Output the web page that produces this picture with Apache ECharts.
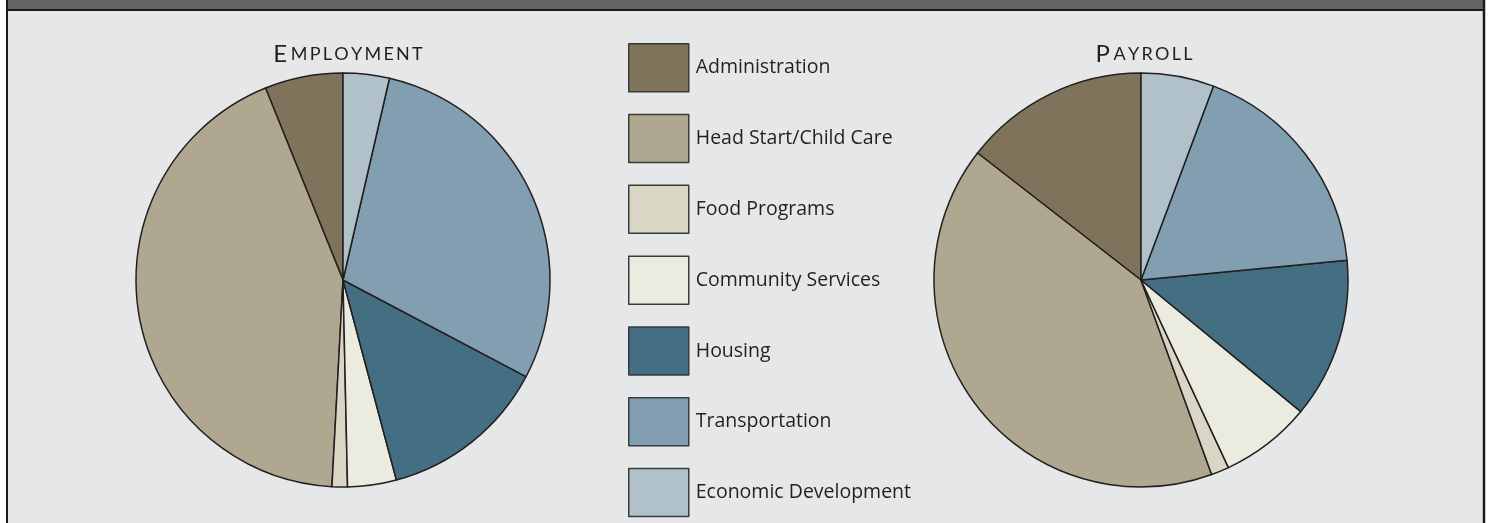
<!DOCTYPE html>
<html>
<head>
<meta charset="utf-8">
<script src="https://cdn.jsdelivr.net/npm/echarts@6/dist/echarts.min.js"></script>
<style>
  html, body { margin: 0; padding: 0; background: #ffffff; }
  #chart { width: 1491px; height: 523px; }
</style>
</head>
<body>
<div id="chart"></div>
<script>
var categories = ['Administration', 'Head Start/Child Care', 'Food Programs', 'Community Services', 'Housing', 'Transportation', 'Economic Development'];
var colors = ['#7f735b', '#afa78f', '#d9d6c6', '#ecebe0', '#446e82', '#819fb0', '#b1c1c9'];
var employment = [6.1, 43.0, 1.2, 3.8, 13.1, 29.1, 3.6];
var payroll = [14.5, 41.1, 1.4, 7.1, 12.5, 17.8, 5.7];

var chart = echarts.init(document.getElementById('chart'));

function toData(values) {
	var data = [];
	for (var i = 0; i < categories.length; i++) {
		data.push({ name: categories[i], value: values[i], itemStyle: { color: colors[i] } });
	}
	return data;
}

// spaced small caps title, e.g. E MPLOYMENT
function spaced(s) {
	return s.split('').join('\u2009');
}

function pieSeries(name, center, values) {
	return {
		name: name,
		type: 'pie',
		center: center,
		radius: 207,
		startAngle: 90,
		clockwise: false,
		animation: false,
		silent: true,
		label: { show: false },
		labelLine: { show: false },
		itemStyle: { borderColor: '#231f20', borderWidth: 1.5 },
		data: toData(values)
	};
}

var titleRich = {
	big: { fontFamily: 'Lato', fontWeight: 'normal', fontSize: 24, color: '#231f20' },
	small: { fontFamily: 'Lato', fontWeight: 'normal', fontSize: 18, color: '#231f20' }
};

var option = {
	backgroundColor: '#e6e7e8',
	title: [
		{ text: '{big|E}\u2009{small|' + spaced('MPLOYMENT') + '}', left: 343, top: 37, textAlign: 'center', textStyle: { rich: titleRich } },
		{ text: '{big|P}\u2009{small|' + spaced('AYROLL') + '}', left: 1139, top: 37, textAlign: 'center', textStyle: { rich: titleRich } }
	],
	legend: {
		orient: 'vertical',
		left: 628,
		top: 43,
		height: 500,
		padding: 0,
		itemWidth: 60,
		itemHeight: 48,
		itemGap: 21.3,
		icon: 'rect',
		selectedMode: false,
		data: categories,
		itemStyle: { borderColor: '#3a3a3a', borderWidth: 1.5 },
		textStyle: { fontFamily: 'Open Sans', fontSize: 19.5, color: '#231f20', padding: [0, 0, 0, 2] }
	},
	graphic: [
		{ type: 'rect', shape: { x: 0, y: 0, width: 6, height: 523 }, style: { fill: '#ffffff' } },
		{ type: 'rect', shape: { x: 1485, y: 0, width: 6, height: 523 }, style: { fill: '#ffffff' } },
		{ type: 'rect', shape: { x: 8, y: 0, width: 1475, height: 9 }, style: { fill: '#636466' } },
		{ type: 'line', shape: { x1: 6, y1: 10, x2: 1485, y2: 10 }, style: { stroke: '#1a1a1a', lineWidth: 2 } },
		{ type: 'line', shape: { x1: 7, y1: 0, x2: 7, y2: 523 }, style: { stroke: '#1a1a1a', lineWidth: 2 } },
		{ type: 'line', shape: { x1: 1484, y1: 0, x2: 1484, y2: 523 }, style: { stroke: '#1a1a1a', lineWidth: 2.5 } }
	],
	series: [
		pieSeries('Employment', [343, 280], employment),
		pieSeries('Payroll', [1141, 280], payroll)
	]
};

chart.setOption(option);
</script>
</body>
</html>
